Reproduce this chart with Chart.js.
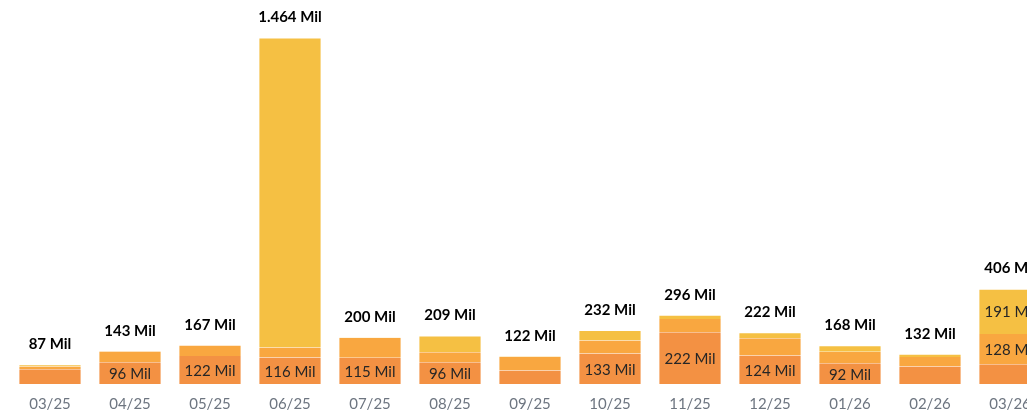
<!DOCTYPE html>
<html>
<head>
<meta charset="utf-8">
<script src="https://cdn.jsdelivr.net/npm/chart.js@4/dist/chart.umd.min.js"></script>
<style>
    html, body { margin: 0; padding: 0; background: #fff; overflow: hidden; }
    #wrap { width: 1027px; height: 411px; overflow: hidden; }
</style>
</head>
<body>
<div id="wrap"><canvas id="panel-chart" width="1060" height="411"></canvas></div>
<script>

const months = ['03/25', '04/25', '05/25', '06/25', '07/25', '08/25', '09/25', '10/25', '11/25', '12/25', '01/26', '02/26', '03/26'];

// values in Mil, bottom to top
const baseValues = [66, 96, 122, 116, 115, 96, 61, 133, 222, 124, 92, 78, 87];
const middleValues = [12, 45, 44, 42, 83, 42, 58, 55, 56, 73, 48, 40, 128];
const topValues = [9, 2, 1, 1306, 2, 71, 3, 44, 18, 25, 28, 14, 191];

const totals = months.map((m, i) => baseValues[i] + middleValues[i] + topValues[i]);

const fontFamily = 'Lato, "Open Sans", sans-serif';

const formatMil = value => String(value).replace(/\B(?=(\d{3})+(?!\d))/g, '.') + ' Mil';

const edgeColor = 'rgba(255, 255, 255, 0.35)';

const labelsPlugin = {

    id: 'barLabels',

    afterDatasetsDraw(chart) {

        const ctx = chart.ctx;

        ctx.save();
        ctx.textAlign = 'center';
        ctx.textBaseline = 'middle';

        // values inside segments
        ctx.font = '15px ' + fontFamily;
        ctx.fillStyle = '#262626';

        chart.data.datasets.forEach((dataset, dsIndex) => {

            const meta = chart.getDatasetMeta(dsIndex);

            meta.data.forEach((bar, i) => {

                const value = dataset.data[i];

                if (value >= 90 && value < 1000) {
                    ctx.fillText(formatMil(value), bar.x, (bar.y + bar.base) / 2 + 1);
                }

            });

        });

        // totals above bars
        ctx.font = 'bold 15px ' + fontFamily;
        ctx.fillStyle = '#000';

        const topMeta = chart.getDatasetMeta(chart.data.datasets.length - 1);

        topMeta.data.forEach((bar, i) => {
            ctx.fillText(formatMil(totals[i]), bar.x, bar.y - 20);
        });

        ctx.restore();

    }

};

const chart = new Chart(document.getElementById('panel-chart').getContext('2d'), {

    type: 'bar',
    data: {
        labels: months,
        datasets: [
            {
                label: 'base',
                data: baseValues,
                backgroundColor: '#F39143',
                borderColor: edgeColor,
                borderWidth: { left: 1, right: 1, top: 0, bottom: 1 },
                borderSkipped: false
            },
            {
                label: 'middle',
                data: middleValues,
                backgroundColor: '#F9A740',
                borderColor: edgeColor,
                borderWidth: { left: 1, right: 1, top: 0, bottom: 0 },
                borderSkipped: false
            },
            {
                label: 'top',
                data: topValues,
                backgroundColor: '#F5C043',
                borderColor: edgeColor,
                borderWidth: { left: 1, right: 1, top: 1, bottom: 0 },
                borderSkipped: false
            }
        ]
    },
    options: {
        responsive: false,
        animation: false,
        devicePixelRatio: 1,
        categoryPercentage: 1,
        barPercentage: 0.79,
        layout: {
            padding: { left: 10, right: 10, top: 29, bottom: 0 }
        },
        plugins: {
            legend: { display: false },
            tooltip: { enabled: false }
        },
        scales: {
            x: {
                stacked: true,
                grid: { display: false, drawTicks: false },
                border: { display: false },
                ticks: {
                    color: '#6D7580',
                    padding: 10,
                    font: { family: fontFamily, size: 15 }
                },
                afterFit: scale => { scale.height = 26; }
            },
            y: {
                stacked: true,
                display: false,
                min: 0,
                max: 1500
            }
        }
    },
    plugins: [labelsPlugin]

});

</script>
</body>
</html>
